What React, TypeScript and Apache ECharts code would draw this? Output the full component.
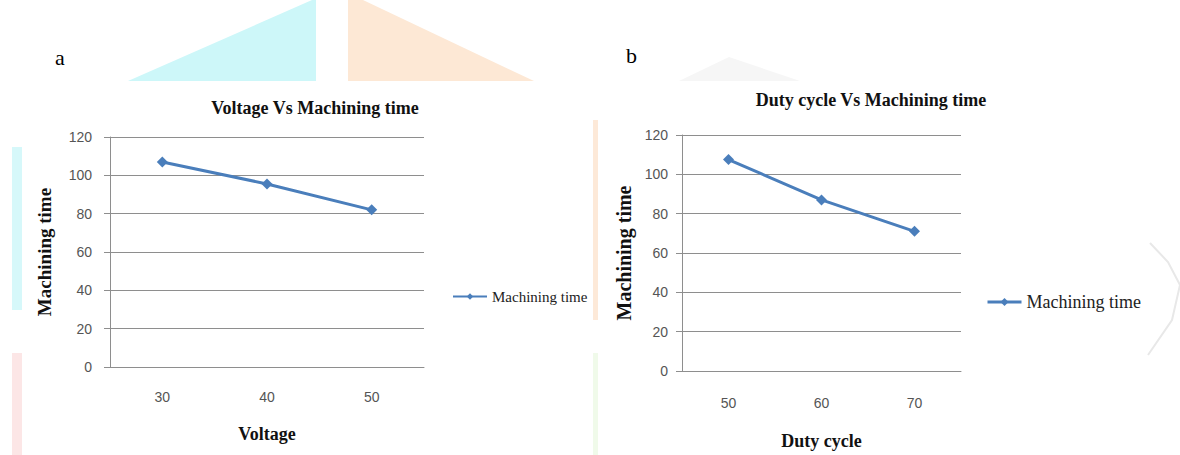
import { useEffect, useRef } from "react";
import * as echarts from "echarts";

const voltageCategories = ["30", "40", "50"];
const voltageMachiningTime = [107, 95.5, 82];
const dutyCategories = ["50", "60", "70"];
const dutyMachiningTime = [107.5, 87, 71];
const yMin = 0;
const yMax = 120;
const yStep = 20;
const seriesName = "Machining time";
const titleA = "Voltage Vs Machining time";
const titleB = "Duty cycle Vs Machining time";
const xNameA = "Voltage";
const xNameB = "Duty cycle";
const yName = "Machining time";

export default function App() {
  const ref = useRef<HTMLDivElement>(null);
  useEffect(() => {
    const chart = echarts.init(ref.current!, null, { renderer: "svg" });
    const serif = "'Liberation Serif', 'Times New Roman', serif";
    const sans = "'Liberation Sans', Arial, sans-serif";
    const gridColor = "#8e8e8e";
    const blue = "#4a7ebb";

    const yAxis = (gridIndex: number, nameGap: number, nameSize: number, labelMargin: number) => ({
      type: "value",
      gridIndex,
      min: yMin,
      max: yMax,
      interval: yStep,
      name: yName,
      nameLocation: "middle",
      nameGap,
      nameTextStyle: { fontFamily: serif, fontWeight: "bold", fontSize: nameSize, color: "#111" },
      axisLine: { show: true, lineStyle: { color: gridColor, width: 1 } },
      axisTick: { show: true, length: 6, lineStyle: { color: gridColor } },
      axisLabel: { fontFamily: sans, fontSize: 14, color: "#555", margin: labelMargin },
      splitLine: { show: true, lineStyle: { color: gridColor, width: 1 } },
    });

    const xAxis = (gridIndex: number, data: string[], name: string, nameGap: number, labelMargin: number) => ({
      type: "category",
      gridIndex,
      data,
      boundaryGap: true,
      name,
      nameLocation: "middle",
      nameGap,
      nameTextStyle: { fontFamily: serif, fontWeight: "bold", fontSize: 18, color: "#111" },
      axisLine: { show: true, lineStyle: { color: gridColor, width: 1 } },
      axisTick: { show: false },
      axisLabel: { fontFamily: sans, fontSize: 14, color: "#555", margin: labelMargin },
      splitLine: { show: false },
    });

    const lineSeries = (idx: number, data: number[]) => ({
      type: "line",
      name: seriesName,
      xAxisIndex: idx,
      yAxisIndex: idx,
      data,
      symbol: "diamond",
      symbolSize: 11,
      lineStyle: { color: blue, width: 3 },
      itemStyle: { color: blue },
      z: 5,
    });

    chart.setOption({
      animation: false,
      backgroundColor: "#ffffff",
      grid: [
        { left: 110, top: 137, width: 314, height: 230, containLabel: false },
        { left: 682, top: 135, width: 279, height: 238, containLabel: false },
      ],
      xAxis: [
        xAxis(0, voltageCategories, xNameA, 58, 23),
        xAxis(1, dutyCategories, xNameB, 61, 25),
      ],
      yAxis: [yAxis(0, 56, 19, 18), yAxis(1, 48, 20, 14)],
      legend: [
        {
          left: 447,
          top: 284,
          selectedMode: false,
          data: [seriesName],
          itemWidth: 34,
          itemHeight: 8,
          lineStyle: { width: 2 },
          textStyle: { fontFamily: serif, fontSize: 15, color: "#222" },
        },
        {
          left: 981,
          top: 288,
          selectedMode: false,
          data: [seriesName],
          itemWidth: 34,
          itemHeight: 10,
          lineStyle: { width: 3 },
          textStyle: { fontFamily: serif, fontSize: 18, color: "#222" },
        },
      ],
      series: [lineSeries(0, voltageMachiningTime), lineSeries(1, dutyMachiningTime)],
      graphic: [
        // faint watermark shapes behind the figure
        { type: "polygon", z: -10, silent: true, shape: { points: [[128, 81], [312, 0], [316, 0], [316, 81]] }, style: { fill: "#cdf7f9" } },
        { type: "polygon", z: -10, silent: true, shape: { points: [[348, 0], [363, 0], [534, 81], [348, 81]] }, style: { fill: "#fde8d5" } },
        { type: "polygon", z: -10, silent: true, shape: { points: [[679, 81], [729, 57], [800, 81]] }, style: { fill: "#f6f6f6" } },
        { type: "rect", z: -10, silent: true, shape: { x: 12, y: 147, width: 10, height: 163 }, style: { fill: "#d6f8fa" } },
        { type: "rect", z: -10, silent: true, shape: { x: 12, y: 353, width: 10, height: 102 }, style: { fill: "#fce6e6" } },
        { type: "rect", z: -10, silent: true, shape: { x: 593, y: 120, width: 5, height: 200 }, style: { fill: "#fde9d8" } },
        { type: "rect", z: -10, silent: true, shape: { x: 593, y: 353, width: 5, height: 102 }, style: { fill: "#f0faea" } },
        { type: "polyline", z: -10, silent: true, shape: { points: [[1150, 243], [1168, 262], [1180, 285], [1172, 320], [1148, 355]] }, style: { stroke: "#e8e8e8", lineWidth: 2, fill: "none" } },
        // panel labels and titles
        { type: "text", x: 55, y: 57, style: { text: "a", font: `22px ${serif}`, fill: "#000", verticalAlign: "middle" } },
        { type: "text", x: 626, y: 55, style: { text: "b", font: `22px ${serif}`, fill: "#000", verticalAlign: "middle" } },
        { type: "text", x: 315, y: 108, style: { text: titleA, font: `bold 18px ${serif}`, fill: "#111", align: "center", verticalAlign: "middle" } },
        { type: "text", x: 871, y: 100, style: { text: titleB, font: `bold 18px ${serif}`, fill: "#111", align: "center", verticalAlign: "middle" } },
      ],
    });
    return () => chart.dispose();
  }, []);
  return <div ref={ref} style={{ position: "fixed", left: 0, top: 0, width: 1180, height: 455 }} />;
}
